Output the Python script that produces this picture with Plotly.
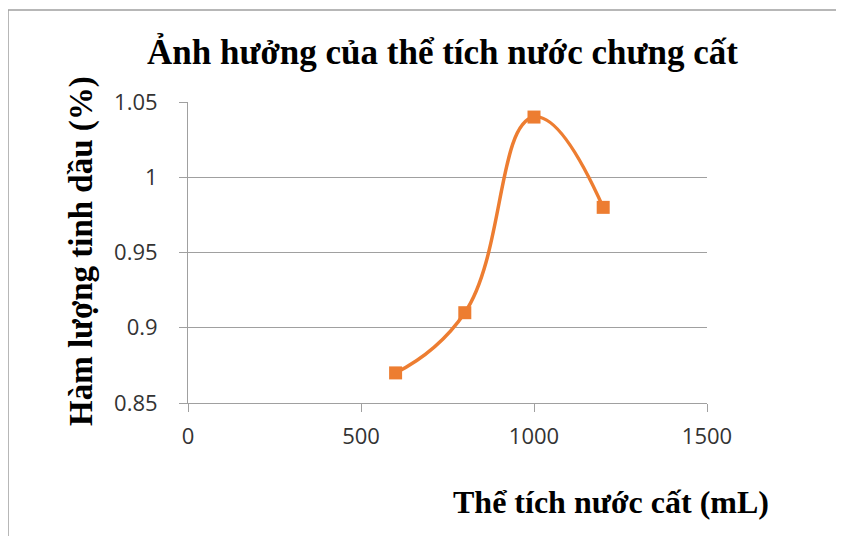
import plotly.graph_objects as go

volume_ml = [600, 800, 1000, 1200]
oil_content = [0.87, 0.91, 1.04, 0.98]
x_ticks = [0, 500, 1000, 1500]
y_ticks = [0.85, 0.9, 0.95, 1.0, 1.05]

title_text = "Ảnh hưởng của thể tích nước chưng cất"
x_title = "Thể tích nước cất (mL)"
y_title = "Hàm lượng tinh dầu (%)"

# page body has an 8px margin; figure sized to fit the window
OFF = 8
W, H = 844 - 2 * OFF, 536 - OFF
# plot area in screen pixels
SX0, SX1, SY0, SY1 = 188, 707, 102, 403
L, T = SX0 - OFF, SY0 - OFF
R, B = W - (SX1 - OFF), H - (SY1 - OFF)
pw, ph = SX1 - SX0, SY1 - SY0

def px_x(sx):
    return (sx - SX0) / pw

def px_y(sy):
    return (SY1 - sy) / ph

orange = "#ED7D31"
grey = "#A0A0A0"
serif = "Liberation Serif, Times New Roman, serif"

fig = go.Figure()
fig.add_trace(go.Scatter(
    x=volume_ml, y=oil_content, mode="lines+markers",
    line=dict(color=orange, width=3.5, shape="spline", smoothing=1.3),
    marker=dict(symbol="square", size=13, color=orange),
    showlegend=False, hoverinfo="skip",
))

fig.update_layout(
    width=W, height=H,
    margin=dict(l=L, r=R, t=T, b=B, autoexpand=False),
    paper_bgcolor="white", plot_bgcolor="white",
    font=dict(family="Open Sans, sans-serif", size=22, color="#333333"),
    xaxis=dict(range=[0, 1500], tickvals=x_ticks, ticks="outside", ticklen=8,
               tickcolor=grey, showline=True, linecolor=grey, linewidth=1,
               showgrid=False, zeroline=False, ticklabelstandoff=6),
    yaxis=dict(range=[0.85, 1.05], tickvals=y_ticks, ticks="outside", ticklen=8,
               tickcolor=grey, showline=True, linecolor=grey, linewidth=1,
               showgrid=True, gridcolor=grey, gridwidth=1, zeroline=False,
               ticklabelstandoff=17),
    shapes=[dict(type="rect", xref="paper", yref="paper",
                 x0=px_x(8), x1=px_x(900), y0=px_y(600), y1=px_y(10),
                 line=dict(color=grey, width=1.5), fillcolor="rgba(0,0,0,0)",
                 layer="below")],
    annotations=[
        dict(text=f"<b>{title_text}</b>", xref="paper", yref="paper",
             x=px_x(442), y=px_y(52), xanchor="center", yanchor="middle",
             showarrow=False, font=dict(family=serif, size=35, color="black")),
        dict(text=f"<b>{x_title}</b>", xref="paper", yref="paper",
             x=px_x(611), y=px_y(502), xanchor="center", yanchor="middle",
             showarrow=False, font=dict(family=serif, size=32, color="black")),
        dict(text=f"<b>{y_title}</b>", xref="paper", yref="paper",
             x=px_x(81), y=px_y(251), xanchor="center", yanchor="middle",
             textangle=-90, showarrow=False,
             font=dict(family=serif, size=33, color="black")),
    ],
)

fig.write_html("out.html")
